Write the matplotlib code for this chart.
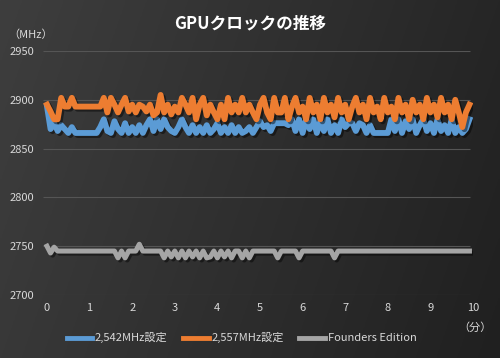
import numpy as np
import matplotlib.pyplot as plt
import matplotlib.patheffects as pe

plt.rcParams['font.family'] = ['Noto Sans CJK JP', 'DejaVu Sans']

# sample every 5 seconds, x axis in minutes
minutes = np.arange(120) / 12

clock_2542 = [
    2893, 2870, 2876, 2868, 2874, 2870, 2866, 2872, 2866, 2866,
    2866, 2866, 2866, 2866, 2866, 2872, 2880, 2868, 2866, 2878,
    2870, 2866, 2876, 2866, 2872, 2866, 2874, 2866, 2874, 2880,
    2868, 2880, 2870, 2880, 2872, 2868, 2866, 2872, 2880, 2872,
    2866, 2874, 2866, 2872, 2866, 2874, 2866, 2870, 2876, 2866,
    2872, 2866, 2874, 2866, 2872, 2866, 2868, 2872, 2866, 2872,
    2878, 2872, 2874, 2868, 2876, 2876, 2876, 2876, 2874, 2880,
    2868, 2880, 2866, 2880, 2870, 2880, 2866, 2878, 2868, 2880,
    2866, 2874, 2866, 2880, 2872, 2876, 2876, 2868, 2876, 2874,
    2866, 2874, 2866, 2866, 2866, 2866, 2866, 2880, 2868, 2880,
    2866, 2878, 2870, 2880, 2866, 2874, 2880, 2868, 2876, 2866,
    2880, 2868, 2874, 2866, 2880, 2866, 2872, 2866, 2870, 2880,
]

clock_2557 = [
    2895, 2888, 2880, 2880, 2902, 2893, 2893, 2902, 2893, 2893,
    2893, 2893, 2893, 2893, 2893, 2893, 2902, 2887, 2902, 2895,
    2887, 2895, 2902, 2888, 2895, 2887, 2895, 2893, 2888, 2895,
    2884, 2887, 2905, 2887, 2895, 2885, 2893, 2887, 2902, 2895,
    2887, 2902, 2880, 2895, 2902, 2884, 2895, 2887, 2880, 2895,
    2880, 2902, 2887, 2895, 2887, 2902, 2887, 2895, 2887, 2880,
    2895, 2902, 2887, 2880, 2902, 2887, 2887, 2902, 2880, 2893,
    2902, 2887, 2893, 2880, 2902, 2887, 2895, 2880, 2902, 2887,
    2895, 2882, 2902, 2887, 2895, 2880, 2893, 2902, 2887, 2895,
    2880, 2902, 2887, 2893, 2880, 2902, 2887, 2893, 2880, 2902,
    2887, 2895, 2880, 2900, 2887, 2895, 2880, 2902, 2887, 2895,
    2882, 2902, 2887, 2895, 2880, 2900, 2887, 2872, 2887, 2895,
]

clock_fe = (
    [2750, 2743, 2749] + [2745] * 17
    + [2738, 2745, 2738, 2745, 2745, 2745, 2752, 2745, 2745, 2745,
       2745, 2745, 2745, 2738, 2745, 2739, 2745, 2738, 2745, 2738,
       2745, 2739, 2745, 2738, 2745, 2738, 2739, 2745, 2738, 2745,
       2739, 2745, 2738, 2745, 2745, 2738, 2745, 2738, 2745]
    + [2745] * 6 + [2738] + [2745] * 5 + [2738] + [2745] * 9 + [2738]
    + [2745] * 38
)

labels = ['2,542MHz設定', '2,557MHz設定', 'Founders Edition']
colors = ['#5B9BD5', '#ED7D31', '#A5A5A5']
widths = [4.2, 4.2, 3.6]
series = [clock_2542, clock_2557, clock_fe]

fig = plt.figure(figsize=(5, 3.58), dpi=100)

# dark gradient background
bg = fig.add_axes([0, 0, 1, 1], zorder=-10)
gx, gy = np.meshgrid(np.linspace(0, 1, 200), np.linspace(0, 1, 150))
level = (0x3e - 0x18 * gx - 0x06 * gy) / 255
bg.imshow(np.dstack([level, level, level]), aspect='auto', extent=[0, 1, 1, 0])
bg.axis('off')

ax = fig.add_axes([0.086, 0.176, 0.86, 0.6816])
ax.patch.set_alpha(0)
ax.set_xlim(-0.094, 10.0)
ax.set_ylim(2700, 2950)

yticks = [2700, 2750, 2800, 2850, 2900, 2950]
ax.hlines(yticks, -0.094, 9.93, color='#555555', lw=0.8, zorder=1)

shadow = [pe.SimpleLineShadow(offset=(1.5, -1.5), shadow_color='black', alpha=0.45),
          pe.Normal()]
for vals, c, w in zip(series, colors, widths):
    ax.plot(minutes, vals, color=c, lw=w, solid_joinstyle='round', zorder=3,
            path_effects=shadow)

ax.set_xticks(range(0, 11))
ax.set_yticks(yticks)
ax.tick_params(length=0, colors='#D9D9D9', labelsize=8, pad=6)
for s in ax.spines.values():
    s.set_visible(False)

fig.text(0.5, 0.935, 'GPUクロックの推移', color='white', fontsize=12,
         fontweight='bold', ha='center', va='center')
fig.text(0.062, 0.902, '（MHz）', color='#D9D9D9', fontsize=8, ha='center', va='center')
fig.text(0.95, 0.084, '（分）', color='#D9D9D9', fontsize=8, ha='center', va='center')

handles = [plt.Line2D([], [], color=c, lw=3.5) for c in colors]
leg = fig.legend(handles, labels, loc='center', bbox_to_anchor=(0.483, 0.056),
                 ncol=3, frameon=False, fontsize=8, handlelength=2.3,
                 handletextpad=0.25, columnspacing=1.4)
for t in leg.get_texts():
    t.set_color('#D9D9D9')

fig.savefig('out.png', dpi=100)
